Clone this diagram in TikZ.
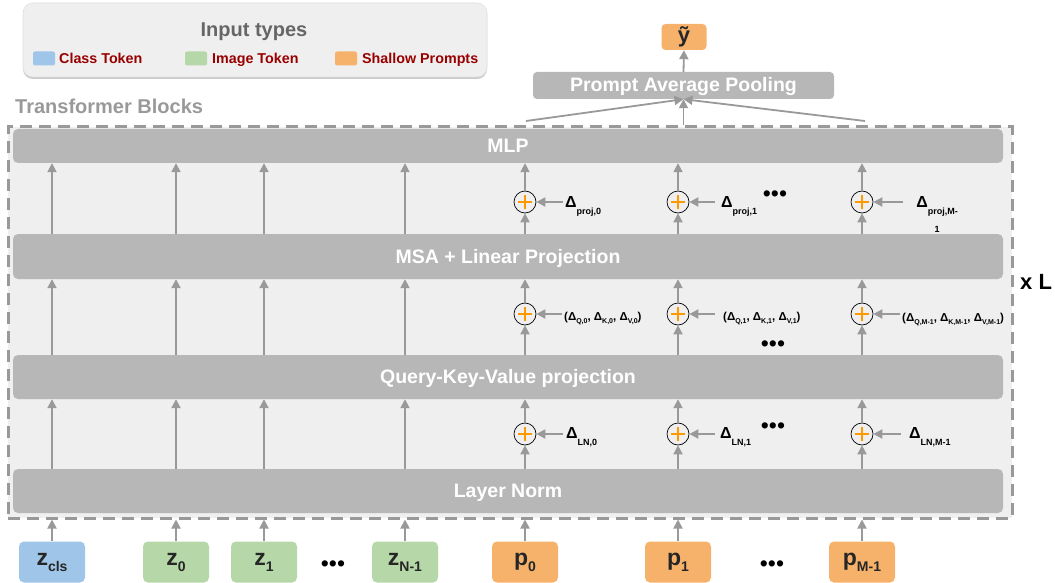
\documentclass[tikz,border=0pt]{standalone}
\usepackage{fontspec}
\setmainfont{Liberation Sans}
\usetikzlibrary{arrows.meta,shadows}
\definecolor{vptBar}{HTML}{B7B7B7}
\definecolor{vptPale}{HTML}{EFEFEF}
\definecolor{vptGray}{HTML}{999999}
\definecolor{vptDark}{HTML}{666666}
\definecolor{vptRed}{HTML}{990000}
\definecolor{vptBlue}{HTML}{9FC5E8}
\definecolor{vptGreen}{HTML}{B6D7A8}
\definecolor{vptPeach}{HTML}{F6B26B}
\definecolor{vptOrange}{HTML}{FF9900}
\newcommand{\tsub}[1]{\raisebox{-6pt}{\fontsize{14}{14}\selectfont #1}}
\newcommand{\dsub}[1]{\raisebox{-7pt}{\fontsize{9}{9}\selectfont #1}}
\newcommand{\qsub}[1]{\raisebox{-3pt}{\fontsize{7}{7}\selectfont #1}}
\tikzset{
  vpt box/.style={draw=vptGray, line width=3pt, dash pattern=on 12pt off 7pt, fill=vptPale},
  vpt bar/.style={fill=vptBar, rounded corners=5pt, minimum width=990pt, inner sep=0pt, text=white, text height=14pt, text depth=1pt, font=\fontsize{19.5}{22}\selectfont\bfseries},
  vpt token/.style={rounded corners=5pt, minimum width=66pt, minimum height=41pt, inner sep=0pt, text=black!85, font=\fontsize{23}{26}\selectfont\bfseries},
  vpt arrow/.style={draw=vptGray, line width=1.8pt, -{Triangle[length=9pt,width=9pt]}},
  vpt plus/.style={circle, draw=black, line width=0.7pt, fill=vptPale, minimum size=22pt, inner sep=0pt,
    path picture={\draw[vptOrange, line width=2.6pt]
      ([xshift=-7pt]path picture bounding box.center) -- ([xshift=7pt]path picture bounding box.center)
      ([yshift=-7pt]path picture bounding box.center) -- ([yshift=7pt]path picture bounding box.center);}},
  vpt delta/.style={font=\fontsize{16}{25}\selectfont\bfseries, inner sep=0pt},
  vpt triple/.style={font=\fontsize{11.5}{13}\selectfont\bfseries, inner sep=0pt},
  vpt dots/.style={font=\fontsize{23}{23}\selectfont, inner sep=0pt},
  vpt legend/.style={draw=black!12, fill=vptPale, rounded corners=10pt, line width=0.6pt,
    drop shadow={shadow xshift=0pt, shadow yshift=-2pt, opacity=0.35, fill=black!60}},
  vpt swatch/.style={minimum width=22pt, minimum height=14pt, inner sep=0pt, rounded corners=2pt},
  vpt key/.style={font=\fontsize{14.3}{16}\selectfont\bfseries, text=vptRed, inner sep=0pt},
  vpt title/.style={font=\fontsize{20}{22}\selectfont\bfseries, inner sep=0pt},
}

\begin{document}
\begin{tikzpicture}[x=1pt,y=-1pt]
  \useasboundingbox (0,0) rectangle (1055,583);

  % legend
  \node[vpt legend, minimum width=464pt, minimum height=74pt] (legend) at (255,40) {};
  \node[vpt title, text=vptDark, anchor=base] (legtitle) at (254,37) {Input types};
  \node[vpt swatch, fill=vptBlue] (swcls) at (44,58.5) {};
  \node[vpt key, anchor=base west] (keycls) at (59,64) {Class Token};
  \node[vpt swatch, fill=vptGreen] (swimg) at (196,58.5) {};
  \node[vpt key, anchor=base west] (keyimg) at (212,64) {Image Token};
  \node[vpt swatch, fill=vptPeach] (swprm) at (346,58.5) {};
  \node[vpt key, anchor=base west] (keyprm) at (362,64) {Shallow Prompts};

  % transformer blocks
  \node[vpt title, text=vptGray, anchor=base west] (blockname) at (15,114) {Transformer Blocks};
  \node[vpt box, minimum width=1004pt, minimum height=391pt, inner sep=0pt] (blocks) at (510,322.5) {};
  \node[vpt bar, minimum height=34pt] (mlp) at (508,146) {MLP};
  \node[vpt bar, minimum height=45pt] (msa) at (508,256.5) {MSA + Linear Projection};
  \node[vpt bar, minimum height=44pt] (qkv) at (508,377) {Query-Key-Value projection};
  \node[vpt bar, minimum height=44pt] (ln) at (508,491) {Layer Norm};
  \node[font=\fontsize{22}{24}\selectfont\bfseries, anchor=base west, inner sep=0pt] (times) at (1020,289) {x L};

  % inputs
  \node[vpt token, fill=vptBlue] (zcls) at (52,562) {z\tsub{cls}};
  \node[vpt token, fill=vptGreen] (z0) at (176,562) {z\tsub{0}};
  \node[vpt token, fill=vptGreen] (z1) at (264,562) {z\tsub{1}};
  \node[vpt dots] (zdots) at (333,566) {•••};
  \node[vpt token, fill=vptGreen] (zN) at (405,562) {z\tsub{N-1}};
  \node[vpt token, fill=vptPeach] (p0) at (525,562) {p\tsub{0}};
  \node[vpt token, fill=vptPeach] (p1) at (678,562) {p\tsub{1}};
  \node[vpt dots] (pdots) at (772,566) {•••};
  \node[vpt token, fill=vptPeach] (pM) at (862,562) {p\tsub{M-1}};

  % image tokens go straight up
  \foreach \t in {zcls,z0,z1,zN} {
    \draw[vpt arrow] (\t.north) -- (\t.north |- blocks.south);
    \draw[vpt arrow] (\t |- ln.north) -- (\t |- qkv.south);
    \draw[vpt arrow] (\t |- qkv.north) -- (\t |- msa.south);
    \draw[vpt arrow] (\t |- msa.north) -- (\t |- mlp.south);
  }

  % prompts get their shifts added
  \foreach \t in {p0,p1,pM} {
    \node[vpt plus] (addln\t) at (\t |- 0,434) {};
    \node[vpt plus] (addqkv\t) at (\t |- 0,314) {};
    \node[vpt plus] (addproj\t) at (\t |- 0,202) {};
    \draw[vpt arrow] (\t.north) -- (\t.north |- blocks.south);
    \draw[vpt arrow] (\t |- ln.north) -- (addln\t);
    \draw[vpt arrow] (addln\t) -- (\t |- qkv.south);
    \draw[vpt arrow] (\t |- qkv.north) -- (addqkv\t);
    \draw[vpt arrow] (addqkv\t) -- (\t |- msa.south);
    \draw[vpt arrow] (\t |- msa.north) -- (addproj\t);
    \draw[vpt arrow] (addproj\t) -- (\t |- mlp.south);
  }

  % shift labels
  \node[vpt delta, anchor=base west] (dln0) at (566,438) {Δ\dsub{LN,0}};
  \node[vpt delta, anchor=base west] (dln1) at (720,438) {Δ\dsub{LN,1}};
  \node[vpt dots] (lndots) at (773,428) {•••};
  \node[vpt delta, anchor=base west] (dlnM) at (909,438) {Δ\dsub{LN,M-1}};
  \node[vpt triple, anchor=base west] (dqkv0) at (564,320) {(Δ\qsub{Q,0}, Δ\qsub{K,0}, Δ\qsub{V,0})};
  \node[vpt triple, anchor=base west] (dqkv1) at (723,320) {(Δ\qsub{Q,1}, Δ\qsub{K,1}, Δ\qsub{V,1})};
  \node[vpt dots] (qkvdots) at (773,346) {•••};
  \node[vpt triple, anchor=base west] (dqkvM) at (902,321) {(Δ\qsub{Q,M-1}, Δ\qsub{K,M-1}, Δ\qsub{V,M-1})};
  \node[vpt delta, anchor=base west] (dproj0) at (565,207) {Δ\dsub{proj,0}};
  \node[vpt delta, anchor=base west] (dproj1) at (721,207) {Δ\dsub{proj,1}};
  \node[vpt dots] (projdots) at (775,196) {•••};
  \node[vpt delta, align=center, anchor=base] (dprojM) at (937,225) {Δ\dsub{proj,M-}\\[-7pt]\dsub{1}};

  \draw[vpt arrow] ([xshift=-3pt]dln0.west |- addlnp0) -- (addlnp0);
  \draw[vpt arrow] ([xshift=-5pt]dln1.west |- addlnp1) -- (addlnp1);
  \draw[vpt arrow] ([xshift=-8pt]dlnM.west |- addlnpM) -- (addlnpM);
  \draw[vpt arrow] ([xshift=-2pt]dqkv0.west |- addqkvp0) -- (addqkvp0);
  \draw[vpt arrow] ([xshift=-8pt]dqkv1.west |- addqkvp1) -- (addqkvp1);
  \draw[vpt arrow] ([xshift=-2pt]dqkvM.west |- addqkvpM) -- (addqkvpM);
  \draw[vpt arrow] ([xshift=-2pt]dproj0.west |- addprojp0) -- (addprojp0);
  \draw[vpt arrow] ([xshift=-6pt]dproj1.west |- addprojp1) -- (addprojp1);
  \draw[vpt arrow] ([xshift=-13pt]dprojM.west |- addprojpM) -- (addprojpM);

  % pooling on top
  \node[vpt bar, minimum width=301pt, minimum height=27pt, rounded corners=4pt] (pool) at (683.5,85.5) {Prompt Average Pooling};
  \node[vpt token, fill=vptPeach, minimum width=45pt, minimum height=26pt, font=\fontsize{22}{24}\selectfont\bfseries, rounded corners=4pt] (yhat) at (684,37) {ỹ};
  \coordinate (fromleft) at (526,121);
  \coordinate (fromright) at (865,121);
  \draw[vpt arrow] (fromleft) -- (pool.south);
  \draw[vpt arrow] (fromright) -- (pool.south);
  \draw[vpt arrow] (pool.south |- blocks.north) -- (pool.south);
  \draw[vpt arrow] (pool.north) -- (yhat.south);
\end{tikzpicture}
\end{document}
